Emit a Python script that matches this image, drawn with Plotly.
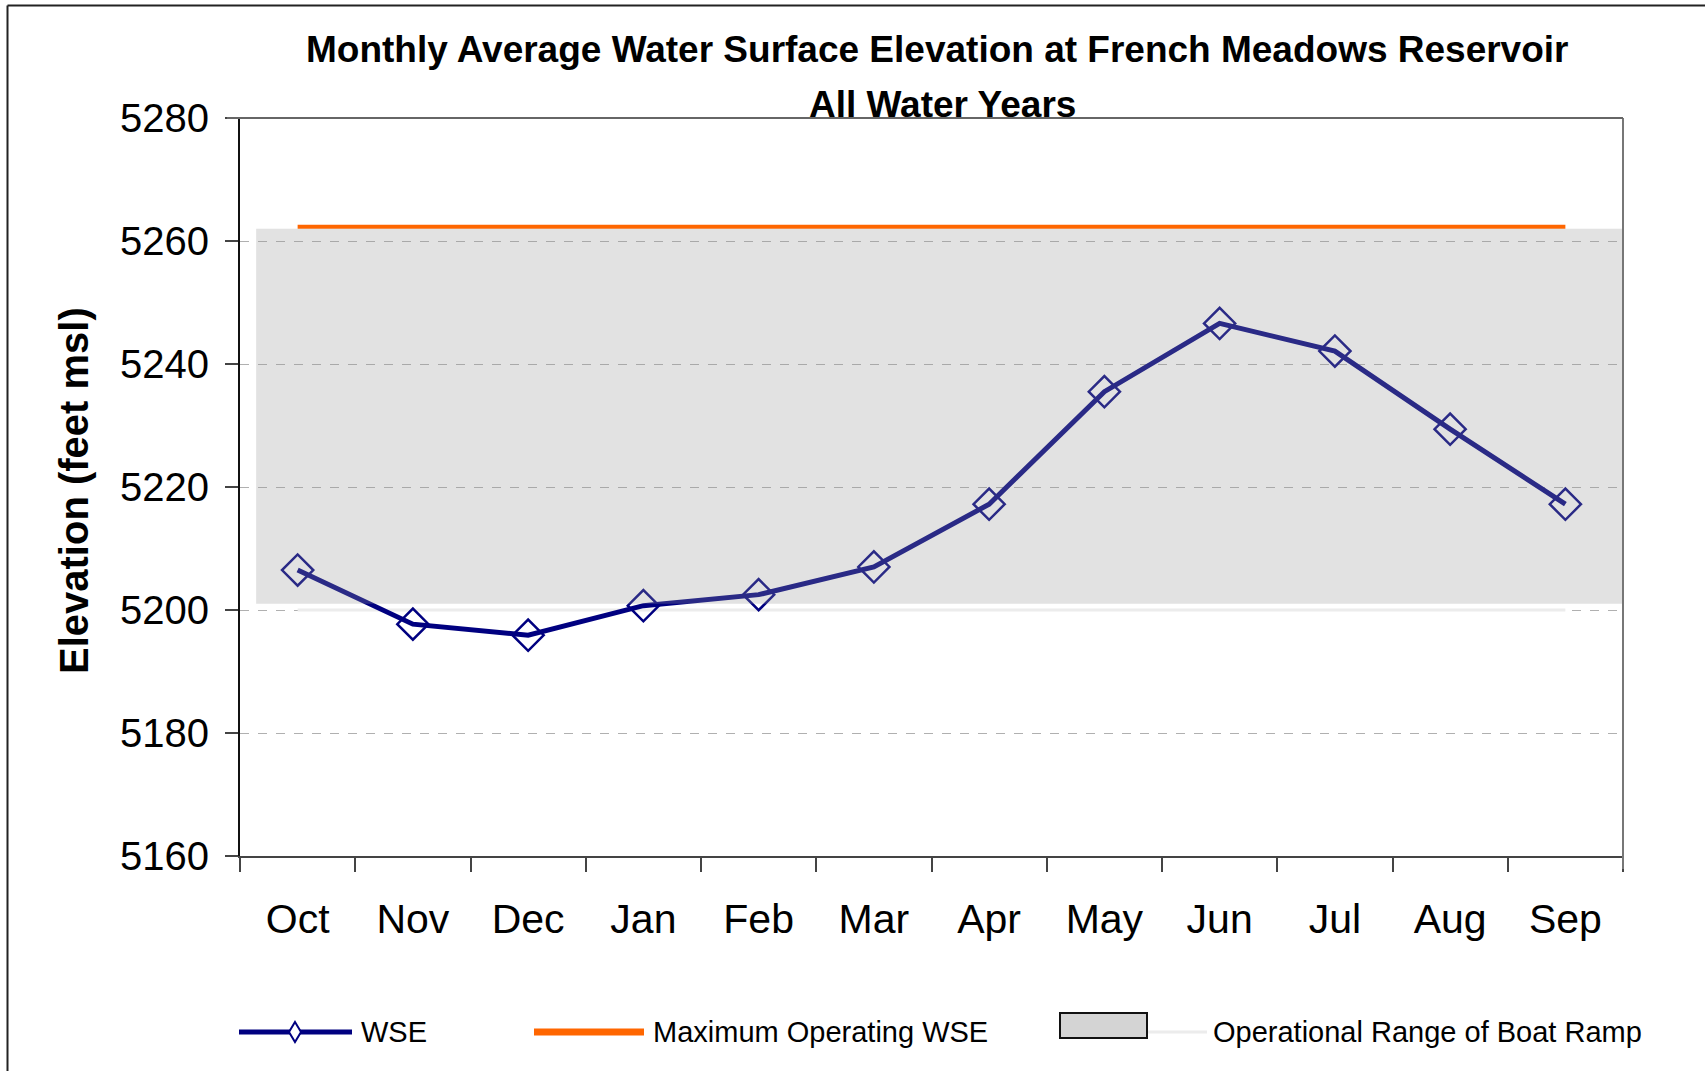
import plotly.graph_objects as go

# ---- data ----
months = ["Oct", "Nov", "Dec", "Jan", "Feb", "Mar", "Apr", "May", "Jun", "Jul", "Aug", "Sep"]
wse = [5206.5, 5197.7, 5195.9, 5200.7, 5202.5, 5207.0, 5217.2, 5235.5, 5246.6, 5242.1, 5229.4, 5217.2]
max_operating_wse = [5262.3] * 12
boat_ramp_low = 5201.0
boat_ramp_high = 5262.0
boat_ramp_line = [5200.0] * 12
y_ticks = [5160, 5180, 5200, 5220, 5240, 5260, 5280]

W, H = 1705, 1071
L, R, T, B = 240, 1623, 118, 856
FONT = "Liberation Sans, Arial"


def px(x):
    return (x - L) / (R - L)


def py(y):
    return (B - y) / (B - T)


fig = go.Figure()

# light boat ramp line
fig.add_trace(go.Scatter(x=months, y=boat_ramp_line, mode="lines",
                         line=dict(color="#ececec", width=3), hoverinfo="skip", showlegend=False))
# maximum operating WSE
fig.add_trace(go.Scatter(x=months, y=max_operating_wse, mode="lines",
                         line=dict(color="#FF6600", width=4), showlegend=False))
# WSE
fig.add_trace(go.Scatter(x=months, y=wse, mode="lines+markers",
                         line=dict(color="#000080", width=5),
                         marker=dict(symbol="diamond-open", size=24, color="#000080",
                                     line=dict(width=2.5, color="#000080")),
                         showlegend=False))

shapes = []
# operational range band (semi-transparent overlay)
shapes.append(dict(type="rect", xref="x", yref="y", x0=-0.36, x1=11.5,
                   y0=boat_ramp_low, y1=boat_ramp_high,
                   fillcolor="rgba(150,150,150,0.28)", line=dict(width=0), layer="above"))
# outer frame lines (left, top)
shapes.append(dict(type="line", xref="paper", yref="paper", x0=px(7.5), x1=px(1720),
                   y0=py(5.5), y1=py(5.5), line=dict(color="#222222", width=2)))
shapes.append(dict(type="line", xref="paper", yref="paper", x0=px(7.5), x1=px(7.5),
                   y0=py(5.5), y1=py(1090), line=dict(color="#222222", width=2)))
# right border
shapes.append(dict(type="line", xref="paper", yref="paper", x0=1, x1=1,
                   y0=py(B + 13), y1=1, line=dict(color="#777777", width=2)))
# top border
shapes.append(dict(type="line", xref="paper", yref="paper", x0=px(L - 13), x1=1,
                   y0=1, y1=1, line=dict(color="#666666", width=2)))

# legend
ly = 1032
shapes.append(dict(type="line", xref="paper", yref="paper", x0=px(239), x1=px(352),
                   y0=py(ly), y1=py(ly), line=dict(color="#000080", width=5)))
d = 10
shapes.append(dict(type="path", xref="paper", yref="paper",
                   path=f"M {px(295)},{py(ly-d)} L {px(295+6)},{py(ly)} L {px(295)},{py(ly+d)} L {px(295-6)},{py(ly)} Z",
                   fillcolor="white", line=dict(color="#000080", width=2)))
shapes.append(dict(type="line", xref="paper", yref="paper", x0=px(534), x1=px(644),
                   y0=py(ly), y1=py(ly), line=dict(color="#FF6600", width=7)))
shapes.append(dict(type="rect", xref="paper", yref="paper", x0=px(1060), x1=px(1147),
                   y0=py(ly + 6), y1=py(ly - 19), fillcolor="#d4d4d4",
                   line=dict(color="#111111", width=2)))
shapes.append(dict(type="line", xref="paper", yref="paper", x0=px(1148), x1=px(1207),
                   y0=py(ly), y1=py(ly), line=dict(color="#ececec", width=3)))

annotations = [
    dict(text="Monthly Average Water Surface Elevation at French Meadows Reservoir",
         xref="paper", yref="paper", x=px(937), y=py(49), showarrow=False,
         xanchor="center", yanchor="middle",
         font=dict(family=FONT, size=37, color="black", weight="bold")),
    dict(text="All Water Years",
         xref="paper", yref="paper", x=px(942), y=py(105), showarrow=False,
         xanchor="center", yanchor="middle",
         font=dict(family=FONT, size=37, color="black", weight="bold")),
    dict(text="Elevation (feet msl)", textangle=-90,
         xref="paper", yref="paper", x=px(74), y=py(491), showarrow=False,
         xanchor="center", yanchor="middle",
         font=dict(family=FONT, size=40, color="black", weight="bold")),
    dict(text="WSE", xref="paper", yref="paper", x=px(359), y=py(ly), xanchor="left",
         yanchor="middle", showarrow=False, font=dict(family=FONT, size=29, color="black")),
    dict(text="Maximum Operating WSE", xref="paper", yref="paper", x=px(651), y=py(ly),
         xanchor="left", yanchor="middle", showarrow=False,
         font=dict(family=FONT, size=29, color="black")),
    dict(text="Operational Range of Boat Ramp", xref="paper", yref="paper", x=px(1211),
         y=py(ly), xanchor="left", yanchor="middle", showarrow=False,
         font=dict(family=FONT, size=29, color="black")),
]

fig.update_layout(
    width=W, height=H,
    margin=dict(l=L, r=W - R, t=T, b=H - B, pad=0),
    paper_bgcolor="white", plot_bgcolor="white",
    showlegend=False,
    font=dict(family=FONT, color="black"),
    shapes=shapes, annotations=annotations,
    xaxis=dict(type="category", categoryarray=months, range=[-0.5, 11.5],
               tickson="boundaries", ticks="outside", ticklen=14, tickcolor="#444444",
               tickwidth=1.5, showline=True, linecolor="#444444", linewidth=2,
               showgrid=False, zeroline=False, ticklabelstandoff=26,
               tickfont=dict(size=41, color="black")),
    yaxis=dict(range=[5160, 5280], tickvals=y_ticks, ticks="outside", ticklen=13,
               tickcolor="#444444", tickwidth=1.5, showline=True, linecolor="#111111",
               linewidth=2, showgrid=True, gridcolor="#b0b0b0", griddash="dash",
               gridwidth=1, zeroline=False, ticklabelstandoff=8,
               tickfont=dict(size=40, color="black")),
)

fig.write_html("out.html", config={"displayModeBar": False},
               post_script="document.body.style.margin='0';document.documentElement.style.overflow='hidden';")
